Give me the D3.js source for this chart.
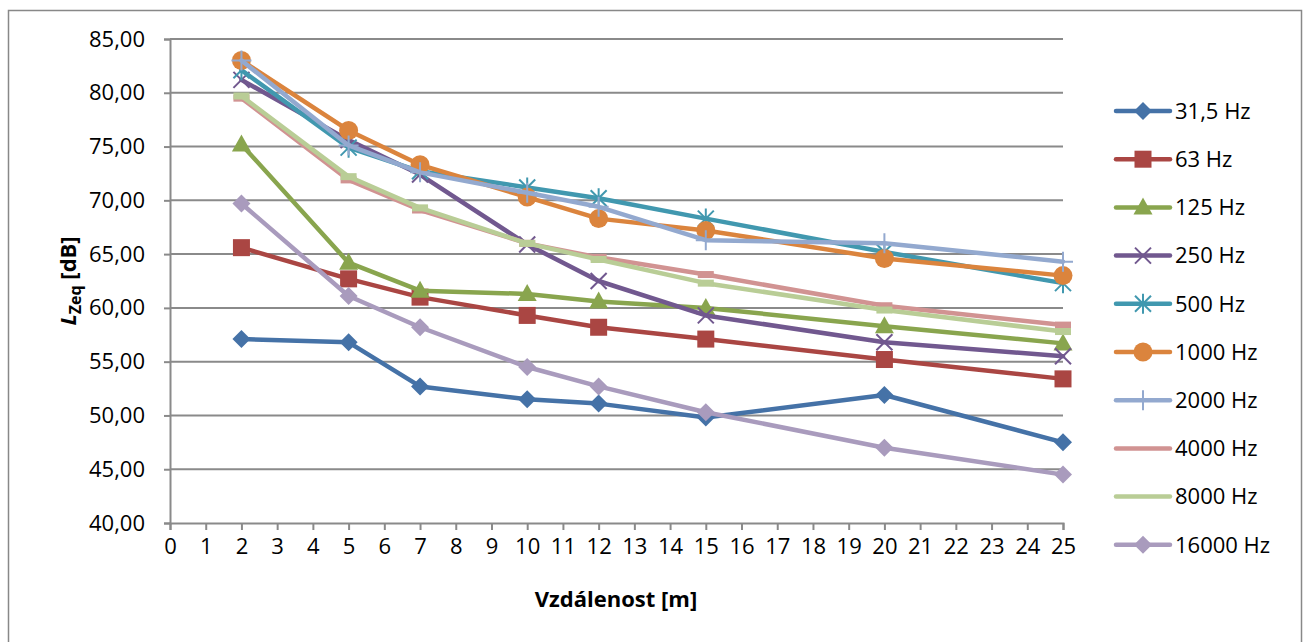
<!DOCTYPE html>
<html>
<head>
<meta charset="utf-8">
<script src="https://cdn.jsdelivr.net/npm/d3@7"></script>
<style>
  html, body { margin: 0; padding: 0; background: #fff; }
  svg { display: block; }
  text { font-family: "Open Sans", "Noto Sans", sans-serif; fill: #000; }
</style>
</head>
<body>
<svg id="chart" width="1306" height="642"></svg>
<script>
// ---- data ----
const distances = [2, 5, 7, 10, 12, 15, 20, 25];
const seriesNames = ["31,5 Hz", "63 Hz", "125 Hz", "250 Hz", "500 Hz", "1000 Hz", "2000 Hz", "4000 Hz", "8000 Hz", "16000 Hz"];
const s31_5  = [57.1, 56.8, 52.7, 51.5, 51.1, 49.8, 51.9, 47.5];
const s63    = [65.6, 62.7, 61.0, 59.3, 58.2, 57.1, 55.2, 53.4];
const s125   = [75.2, 64.2, 61.6, 61.3, 60.6, 60.0, 58.3, 56.7];
const s250   = [81.2, 75.6, 72.4, 65.9, 62.5, 59.3, 56.8, 55.5];
const s500   = [82.1, 74.9, 72.7, 71.2, 70.2, 68.3, 65.2, 62.3];
const s1000  = [83.0, 76.5, 73.3, 70.3, 68.3, 67.2, 64.6, 63.0];
const s2000  = [83.0, 75.1, 72.6, 70.7, 69.4, 66.3, 66.0, 64.3];
const s4000  = [79.5, 71.9, 69.1, 66.0, 64.7, 63.1, 60.2, 58.4];
const s8000  = [79.7, 72.2, 69.3, 66.0, 64.5, 62.3, 59.8, 57.8];
const s16000 = [69.7, 61.1, 58.2, 54.5, 52.7, 50.3, 47.0, 44.5];
const seriesValues = [s31_5, s63, s125, s250, s500, s1000, s2000, s4000, s8000, s16000];
const colors = ["#4572A7", "#AA4643", "#89A54E", "#71588F", "#4198AF", "#DB843D", "#93A9CF", "#D19392", "#B9CD96", "#A99BBD"];
const markers = ["diamond", "square", "triangle", "x", "star", "circle", "plus", "dash", "dash", "diamond"];
const xTicks = d3.range(0, 26);
const yTicks = [40, 45, 50, 55, 60, 65, 70, 75, 80, 85];
const xTitle = "Vzdálenost [m]";

(function () {
// ---- layout ----
const svg = d3.select("#chart");
const pLeft = 170, pRight = 1063, pTop = 39, pBottom = 523;
const x = d3.scaleLinear().domain([0, 25]).range([pLeft, pRight]);
const y = d3.scaleLinear().domain([40, 85]).range([pBottom, pTop]);

// border
svg.append("rect").attr("x", 8.5).attr("y", 10.5).attr("width", 1293).attr("height", 660)
  .attr("fill", "none").attr("stroke", "#888").attr("stroke-width", 1.5);

// gridlines
svg.append("g").selectAll("line").data(yTicks.filter(v => v > 40)).join("line")
  .attr("x1", pLeft).attr("x2", pRight).attr("y1", d => y(d)).attr("y2", d => y(d))
  .attr("stroke", "#8a8a8a").attr("stroke-width", 2);

// axes
const fmt = d => d.toFixed(2).replace(".", ",");
const yAxis = svg.append("g").attr("transform", `translate(${pLeft},0)`)
  .call(d3.axisLeft(y).tickValues(yTicks).tickFormat(fmt).tickSize(6).tickPadding(19));
const xAxis = svg.append("g").attr("transform", `translate(0,${pBottom})`)
  .call(d3.axisBottom(x).tickValues(xTicks).tickFormat(d => d).tickSize(7).tickPadding(8));
[yAxis, xAxis].forEach(a => {
  a.select(".domain").attr("stroke", "#8a8a8a").attr("stroke-width", 2);
  a.selectAll(".tick line").attr("stroke", "#8a8a8a").attr("stroke-width", 2);
  a.selectAll(".tick text").attr("font-family", "'Open Sans', sans-serif").attr("font-size", 22).attr("fill", "#000");
});

// axis titles
svg.append("text").attr("x", 616).attr("y", 607).attr("text-anchor", "middle")
  .attr("font-size", 22).attr("font-weight", "bold").text(xTitle);
const yt = svg.append("text").attr("transform", "translate(76,281) rotate(-90)")
  .attr("text-anchor", "middle").attr("font-size", 22).attr("font-weight", "bold");
yt.append("tspan").attr("font-style", "italic").text("L");
yt.append("tspan").attr("font-size", 16).attr("dy", 5).text("Zeq");
yt.append("tspan").attr("dy", -5).text(" [dB]");

// marker drawing
function drawMarker(g, type, color) {
  if (type === "diamond") {
    g.append("path").attr("d", "M0,-9L9,0L0,9L-9,0Z").attr("fill", color);
  } else if (type === "square") {
    g.append("rect").attr("x", -8.5).attr("y", -8.5).attr("width", 17).attr("height", 17).attr("fill", color);
  } else if (type === "triangle") {
    g.append("path").attr("d", "M0,-10L9.5,7L-9.5,7Z").attr("fill", color);
  } else if (type === "circle") {
    g.append("circle").attr("r", 9.5).attr("fill", color);
  } else if (type === "x") {
    g.append("path").attr("d", "M-8,-8L8,8M-8,8L8,-8").attr("stroke", color).attr("stroke-width", 2).attr("fill", "none");
  } else if (type === "star") {
    g.append("path").attr("d", "M-8,-8L8,8M-8,8L8,-8M0,-10L0,10").attr("stroke", color).attr("stroke-width", 2).attr("fill", "none");
  } else if (type === "plus") {
    g.append("path").attr("d", "M0,-10L0,10M-10,0L10,0").attr("stroke", color).attr("stroke-width", 2).attr("fill", "none");
  } else if (type === "dash") {
    g.append("rect").attr("x", -8).attr("y", -3.5).attr("width", 16).attr("height", 7).attr("fill", color);
  }
}

// series
const line = d3.line().x(d => x(d[0])).y(d => y(d[1]));
seriesValues.forEach((vals, i) => {
  const pts = distances.map((d, j) => [d, vals[j]]);
  const g = svg.append("g");
  g.append("path").attr("d", line(pts)).attr("fill", "none").attr("stroke", colors[i])
    .attr("stroke-width", 4.5).attr("stroke-linejoin", "round").attr("stroke-linecap", "round");
  pts.forEach(p => {
    const m = g.append("g").attr("transform", `translate(${x(p[0])},${y(p[1])})`);
    drawMarker(m, markers[i], colors[i]);
  });
});

// legend
const legY0 = 111, legDy = 48.2;
seriesNames.forEach((name, i) => {
  const g = svg.append("g").attr("transform", `translate(0,${legY0 + i * legDy})`);
  g.append("line").attr("x1", 1116).attr("x2", 1170).attr("y1", 0).attr("y2", 0)
    .attr("stroke", colors[i]).attr("stroke-width", 4.5).attr("stroke-linecap", "round");
  const m = g.append("g").attr("transform", "translate(1143,0)");
  if (markers[i] !== "dash") drawMarker(m, markers[i], colors[i]);
  g.append("text").attr("x", 1175).attr("y", 0).attr("dy", "0.35em").attr("font-size", 22).text(name);
});
})();
</script>
</body>
</html>
